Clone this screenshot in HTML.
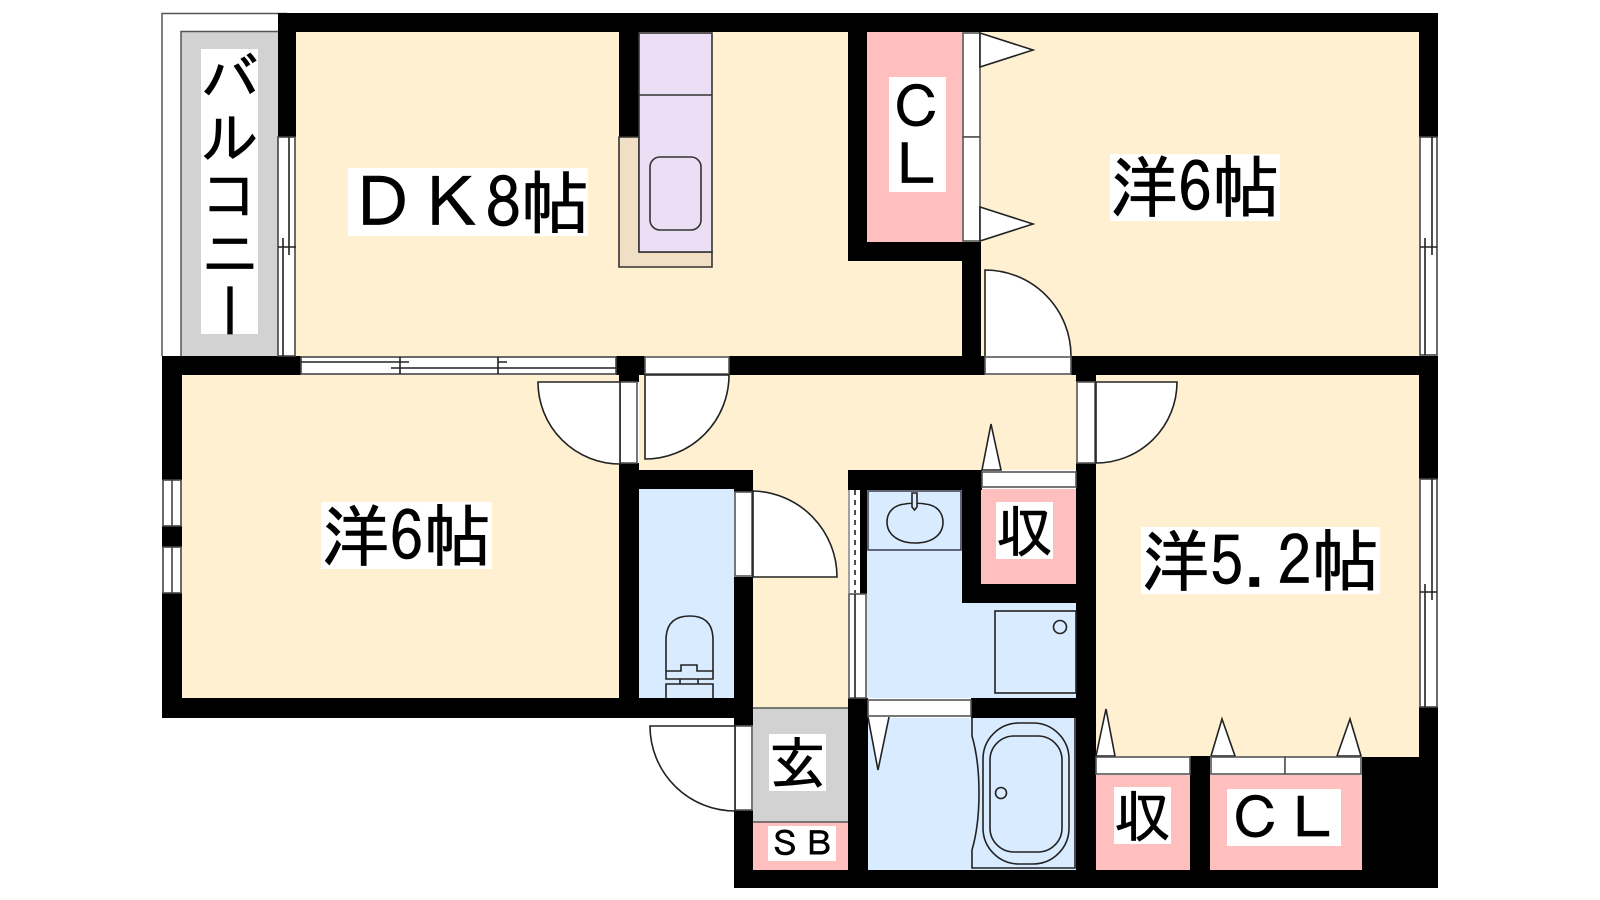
<!DOCTYPE html>
<html lang="ja"><head><meta charset="utf-8"><title>間取り図</title>
<style>
html,body{margin:0;padding:0;background:#fff;width:1600px;height:900px;overflow:hidden}
svg{position:absolute;left:0;top:0}
.t{position:absolute;background:#fff;color:#000;font-family:"Liberation Sans","IPAGothic","Noto Sans CJK JP",sans-serif;text-align:center;white-space:nowrap}
.j{font-family:"IPAGothic","Noto Sans CJK JP",sans-serif;-webkit-text-stroke:0.7px #000}
.v{writing-mode:vertical-rl;text-orientation:upright}
</style></head><body>
<svg width="1600" height="900" viewBox="0 0 1600 900" xmlns="http://www.w3.org/2000/svg">
<!-- fills -->
<g stroke="none">
<rect x="162" y="13" width="116" height="343" fill="#fff"/>
<rect x="181" y="31" width="97" height="325" fill="#d2d2d2"/>
<rect x="296" y="32" width="1123" height="324" fill="#fff0d2"/>
<rect x="182" y="375" width="437" height="323" fill="#fff0d2"/>
<rect x="639" y="375" width="437" height="95" fill="#fff0d2"/>
<rect x="1096" y="375" width="323" height="382" fill="#fff0d2"/>
<rect x="753" y="470" width="95" height="238" fill="#fff0d2"/>
<rect x="639" y="489" width="95" height="209" fill="#d9ebff"/>
<rect x="867" y="490" width="209" height="208" fill="#d9ebff"/>
<rect x="867" y="718" width="209" height="152" fill="#d9ebff"/>
<rect x="753" y="708" width="95" height="114" fill="#d2d2d2"/>
<rect x="753" y="822" width="95" height="48" fill="#ffbfbf"/>
<rect x="867" y="32" width="95" height="210" fill="#ffbfbf"/>
<rect x="981" y="489" width="95" height="95" fill="#ffbfbf"/>
<rect x="1096" y="775" width="95" height="95" fill="#ffbfbf"/>
<rect x="1210" y="775" width="152" height="95" fill="#ffbfbf"/>
</g>
<!-- balcony outline -->
<g fill="none" stroke="#555" stroke-width="1.5">
<path d="M162 356V13.5H287"/><path d="M181 356V31.5H278"/>
<path d="M753 708H848M753 822H848" stroke="#555"/>
</g>
<!-- walls -->
<g fill="#000" stroke="none">
<rect x="278" y="13" width="1160" height="19"/>
<rect x="278" y="13" width="18" height="124"/>
<rect x="162" y="356" width="139" height="19"/>
<rect x="162" y="356" width="20" height="124"/>
<rect x="162" y="526" width="20" height="21"/>
<rect x="162" y="593" width="20" height="125"/>
<rect x="162" y="698" width="591" height="20"/>
<rect x="616" y="356" width="29" height="19"/>
<rect x="619" y="356" width="20" height="26"/>
<rect x="619" y="32" width="20" height="105"/>
<rect x="619" y="463" width="20" height="235"/>
<rect x="619" y="470" width="134" height="19"/>
<rect x="734" y="470" width="19" height="22"/>
<rect x="734" y="577" width="19" height="149"/>
<rect x="734" y="810" width="19" height="78"/>
<rect x="734" y="870" width="704" height="18"/>
<rect x="848" y="13" width="19" height="248"/>
<rect x="848" y="242" width="133" height="19"/>
<rect x="962" y="242" width="19" height="114"/>
<rect x="729" y="356" width="256" height="19"/>
<rect x="1071" y="356" width="367" height="19"/>
<rect x="1076" y="356" width="20" height="26"/>
<rect x="1076" y="463" width="20" height="425"/>
<rect x="848" y="470" width="134" height="20"/>
<rect x="962" y="470" width="19" height="133"/>
<rect x="962" y="584" width="114" height="19"/>
<rect x="860" y="490" width="7" height="104"/>
<rect x="848" y="698" width="20" height="190"/>
<rect x="971" y="698" width="105" height="20"/>
<rect x="1190" y="756" width="20" height="132"/>
<rect x="1362" y="757" width="76" height="131"/>
<rect x="1419" y="13" width="19" height="124"/>
<rect x="1419" y="356" width="19" height="123"/>
<rect x="1419" y="707" width="19" height="181"/>
</g>
<!-- kitchen -->
<g stroke="#333" stroke-width="1.6">
<path d="M619 137V267H712V252H639V137Z" fill="#f0dfc5"/>
<rect x="639" y="33" width="73" height="219" fill="#ecdff5"/>
<path d="M639 95H712" fill="none"/>
<rect x="650" y="157" width="51" height="73" rx="10" fill="#ecdff5"/>
</g>
<!-- doors and panels -->
<g fill="#fff" stroke="#222" stroke-width="1.6">
<!-- CL folding -->
<rect x="963" y="33" width="17" height="104" stroke="#555"/><rect x="963" y="137" width="17" height="104" stroke="#555"/>
<path d="M980 33L1033 50L980 67Z"/><path d="M980 207L1033 224L980 241Z"/>
<!-- door to upper right room -->
<rect x="985" y="357" width="86" height="17" stroke="#555"/>
<path d="M985 356V270A86 86 0 0 1 1071 356"/>
<!-- DK door -->
<rect x="645" y="357" width="84" height="17" stroke="#555"/>
<path d="M645 375V459A84 84 0 0 0 729 375Z"/>
<!-- left room door -->
<rect x="620" y="382" width="17" height="81" stroke="#555"/>
<path d="M620 382H538A82 82 0 0 0 620 464Z"/>
<!-- lower right room door -->
<rect x="1077" y="382" width="18" height="81" stroke="#555"/>
<path d="M1096 382H1177A81 81 0 0 1 1096 463Z"/>
<!-- WC door -->
<rect x="735" y="492" width="17" height="84" stroke="#555"/>
<path d="M753 491A86 86 0 0 1 837 577H753Z"/>
<!-- entrance -->
<rect x="735" y="726" width="17" height="84" stroke="#555"/>
<path d="M735 726H650A85 85 0 0 0 735 811Z"/>
<!-- storage doors -->
<path d="M982 470L991 424L1001 470Z"/>
<rect x="982" y="472" width="94" height="15" stroke="#555"/>
<path d="M1096 756L1106 709L1115 756Z"/>
<path d="M1211 756L1222 719L1235 756Z"/>
<path d="M1337 756L1350 719L1361 756Z"/>
<rect x="1096" y="757" width="94" height="17" stroke="#555"/>
<rect x="1211" y="757" width="74" height="17" stroke="#555"/>
<rect x="1285" y="757" width="76" height="17" stroke="#555"/>
<!-- bath door -->
<rect x="868" y="700" width="103" height="16" stroke="#555"/>
<path d="M868 717L878 770L889 717Z" fill="#fff" stroke="none"/>
<path d="M868 717L878 770L889 717" fill="none"/>
<!-- washroom sliding -->
<rect x="849" y="490" width="11" height="103" stroke="none"/>
<path d="M855 490V593" stroke="#222" stroke-dasharray="5 5" fill="none"/>
<path d="M849 490V593" stroke="#888" fill="none"/>
<rect x="849" y="594" width="17" height="104" stroke="#555"/>
<path d="M855 594V698" fill="none"/>
</g>
<!-- windows -->
<g fill="#fff" stroke="#444" stroke-width="1.6">
<!-- DK west -->
<rect x="278" y="137" width="17" height="219"/>
<path d="M289 137V255M283 238V356M278 247H296" fill="none" stroke="#222"/>
<!-- DK south -->
<rect x="301" y="357" width="315" height="17"/>
<path d="M301 362H409M498 362H507M391 368H616M400 357V374M498 357V374" fill="none" stroke="#222"/>
<!-- left room -->
<rect x="163" y="480" width="18" height="46"/><path d="M172 480V526" fill="none"/>
<rect x="163" y="547" width="18" height="46"/><path d="M172 547V593" fill="none"/>
<!-- right -->
<rect x="1420" y="137" width="17" height="218"/>
<path d="M1432 137V255M1425 238V355M1420 247H1437" fill="none" stroke="#222"/>
<rect x="1420" y="479" width="17" height="228"/>
<path d="M1432 479V600M1425 584V707M1420 592H1437" fill="none" stroke="#222"/>
</g>
<!-- fixtures -->
<g fill="none" stroke="#222" stroke-width="1.6">
<!-- WC -->
<path d="M666 671V640Q666 616 690 616Q713 616 713 640V671"/>
<path d="M666 671H681V665H697V671H713V679H666ZM680 679V684M698 679V684M666 698V684H713V698"/>
<!-- basin -->
<rect x="868" y="491" width="93" height="59" stroke="#445"/>
<path d="M905 504C893 505 887 513 887 522C887 535 899 543 915 543C932 543 943 535 943 522C943 513 937 505 925 504C920 503 910 503 905 504Z"/>
<path d="M912 493H917V507L914.5 510L912 507Z" fill="#d9ebff"/>
<!-- washer -->
<rect x="995" y="611" width="81" height="82"/>
<circle cx="1060" cy="627" r="6.5"/>
<!-- tub -->
<path d="M972 718V736Q979 760 979 793Q979 826 972 850V868H1075V718"/>
<rect x="983" y="723" width="86" height="141" rx="36" ry="36"/>
<rect x="990" y="736" width="72" height="116" rx="24" ry="24"/>
<circle cx="1001" cy="793" r="5.5"/>
</g>
</svg>
<div class="t j v" style="left:201px;top:49px;width:57px;height:285px;font-size:58px;line-height:57px">バルコニー</div>
<div class="t j" style="left:348px;top:168px;width:240px;height:68px;font-size:69px;line-height:69px">ＤＫ8帖</div>
<div class="t j v" style="left:889px;top:77px;width:57px;height:115px;font-size:57px;line-height:59px">ＣＬ</div>
<div class="t j" style="left:1110px;top:154px;width:170px;height:67px;font-size:68px;line-height:67px">洋6帖</div>
<div class="t j" style="left:321px;top:502px;width:171px;height:67px;font-size:68px;line-height:69px">洋6帖</div>
<div class="t j" style="left:1141px;top:527px;width:239px;height:67px;font-size:68px;line-height:69px">洋5.2帖</div>
<div class="t j" style="left:996px;top:502px;width:57px;height:57px;font-size:57px;line-height:57px">収</div>
<div class="t j" style="left:1114px;top:787px;width:57px;height:57px;font-size:57px;line-height:57px">収</div>
<div class="t j" style="left:1227px;top:789px;width:114px;height:57px;font-size:57px;line-height:57px">ＣＬ</div>
<div class="t j" style="left:769px;top:734px;width:57px;height:57px;font-size:57px;line-height:57px">玄</div>
<div class="t j" style="left:768px;top:826px;width:68px;height:35px;font-size:34px;line-height:36px">ＳＢ</div>
</body></html>
